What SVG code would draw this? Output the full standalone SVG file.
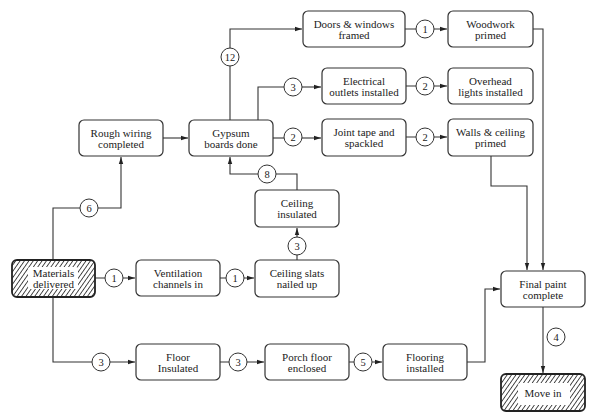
<svg xmlns="http://www.w3.org/2000/svg" width="590" height="417" viewBox="0 0 590 417">
<style>
.box{fill:#fff;stroke:#333;stroke-width:1.2}
.hbox{fill:url(#hatch);stroke:#222;stroke-width:1.8}
.lbl{fill:#fff;stroke:none}
.t{font-family:"Liberation Serif","Times New Roman",serif;font-size:11px;fill:#222;text-anchor:middle}
.c{fill:#fff;stroke:#333;stroke-width:1}
.ct{font-family:"Liberation Serif","Times New Roman",serif;font-size:10.5px;fill:#222;text-anchor:middle}
.ln{fill:none;stroke:#333;stroke-width:1.1}
.ar{fill:none;stroke:#333;stroke-width:1.1;marker-end:url(#ah)}
</style>
<defs>
<pattern id="hatch" width="3.6" height="4" patternUnits="userSpaceOnUse" patternTransform="rotate(35)">
<rect width="3.6" height="4" fill="#fff"/>
<line x1="0" y1="0" x2="0" y2="4" stroke="#222" stroke-width="1.6"/>
</pattern>
<marker id="ah" markerWidth="8" markerHeight="6" refX="7" refY="3" orient="auto" markerUnits="userSpaceOnUse">
<path d="M0,0.8 L7,3 L0,5.2 Z" fill="#222"/>
</marker>
</defs>

<g id="connectors">
<path class="ar" d="M230,120 V29 H302"/>
<path class="ar" d="M405,29 H447"/>
<path class="ln" d="M258,120 V87 H284"/>
<path class="ar" d="M302,87 H321"/>
<path class="ar" d="M406,86 H447"/>
<path class="ln" d="M273,138 H284"/>
<path class="ar" d="M302,138 H321"/>
<path class="ar" d="M406,137 H447"/>
<path class="ar" d="M533,29 H543 V270"/>
<path class="ar" d="M491,156 V186 H527 V270"/>
<path class="ar" d="M163,138 H188"/>
<path class="ln" d="M53,260 V208 H80"/>
<path class="ar" d="M98,208 H121 V157"/>
<path class="ln" d="M297,190 V174 H276"/>
<path class="ar" d="M258,174 H230 V157"/>
<path class="ar" d="M95,278 H135"/>
<path class="ar" d="M220,278 H254"/>
<path class="ar" d="M297,260 V228"/>
<path class="ar" d="M53,297 V362 H135"/>
<path class="ar" d="M220,362 H264"/>
<path class="ar" d="M349,362 H382"/>
<path class="ar" d="M467,362 H485 V289 H500"/>
<path class="ar" d="M543,307 V373"/>

<circle class="c" cx="230" cy="57" r="9"/><text class="ct" x="230" y="60.5">12</text>
<circle class="c" cx="425" cy="29" r="9"/><text class="ct" x="425" y="32.5">1</text>
<circle class="c" cx="293" cy="87" r="9"/><text class="ct" x="293" y="90.5">3</text>
<circle class="c" cx="425" cy="86" r="9"/><text class="ct" x="425" y="89.5">2</text>
<circle class="c" cx="293" cy="137" r="9"/><text class="ct" x="293" y="140.5">2</text>
<circle class="c" cx="425" cy="137" r="9"/><text class="ct" x="425" y="140.5">2</text>
<circle class="c" cx="267" cy="174" r="9"/><text class="ct" x="267" y="177.5">8</text>
<circle class="c" cx="89" cy="208" r="9"/><text class="ct" x="89" y="211.5">6</text>
<circle class="c" cx="297" cy="246" r="9"/><text class="ct" x="297" y="249.5">3</text>
<circle class="c" cx="114" cy="278" r="9"/><text class="ct" x="114" y="281.5">1</text>
<circle class="c" cx="235" cy="278" r="9"/><text class="ct" x="235" y="281.5">1</text>
<circle class="c" cx="101" cy="362" r="9"/><text class="ct" x="101" y="365.5">3</text>
<circle class="c" cx="238" cy="362" r="9"/><text class="ct" x="238" y="365.5">3</text>
<circle class="c" cx="363" cy="362" r="9"/><text class="ct" x="363" y="365.5">5</text>
<circle class="c" cx="556" cy="337" r="9"/><text class="ct" x="556" y="340.5">4</text>
</g>

<g id="doors">
<rect class="box" x="303" y="11" width="102" height="36" rx="5"/>
<text class="t" x="354" y="27.5">Doors &amp; windows</text>
<text class="t" x="354" y="38.5">framed</text>
</g>
<g id="woodwork">
<rect class="box" x="448" y="11" width="85" height="36" rx="5"/>
<text class="t" x="490.5" y="27.5">Woodwork</text>
<text class="t" x="490.5" y="38.5">primed</text>
</g>
<g id="electrical">
<rect class="box" x="322" y="68" width="84" height="36" rx="5"/>
<text class="t" x="364" y="84.5">Electrical</text>
<text class="t" x="364" y="95.5">outlets installed</text>
</g>
<g id="overhead">
<rect class="box" x="448" y="68" width="85" height="36" rx="5"/>
<text class="t" x="490.5" y="84.5">Overhead</text>
<text class="t" x="490.5" y="95.5">lights installed</text>
</g>
<g id="jointtape">
<rect class="box" x="322" y="119" width="84" height="37" rx="5"/>
<text class="t" x="364" y="136">Joint tape and</text>
<text class="t" x="364" y="147">spackled</text>
</g>
<g id="walls">
<rect class="box" x="448" y="119" width="85" height="37" rx="5"/>
<text class="t" x="490.5" y="136">Walls &amp; ceiling</text>
<text class="t" x="490.5" y="147">primed</text>
</g>
<g id="roughwiring">
<rect class="box" x="79" y="120" width="84" height="36" rx="5"/>
<text class="t" x="121" y="136.5">Rough wiring</text>
<text class="t" x="121" y="147.5">completed</text>
</g>
<g id="gypsum">
<rect class="box" x="189" y="120" width="84" height="36" rx="5"/>
<text class="t" x="231" y="136.5">Gypsum</text>
<text class="t" x="231" y="147.5">boards done</text>
</g>
<g id="ceilinginsulated">
<rect class="box" x="255" y="190" width="84" height="37" rx="5"/>
<text class="t" x="297" y="207">Ceiling</text>
<text class="t" x="297" y="218">insulated</text>
</g>
<g id="materials">
<rect class="hbox" x="12" y="260" width="83" height="37" rx="5"/>
<rect class="lbl" x="28" y="267" width="50" height="22" rx="2"/>
<text class="t" x="53.5" y="277">Materials</text>
<text class="t" x="53.5" y="288">delivered</text>
</g>
<g id="ventilation">
<rect class="box" x="136" y="260" width="84" height="36" rx="5"/>
<text class="t" x="178" y="276.5">Ventilation</text>
<text class="t" x="178" y="287.5">channels in</text>
</g>
<g id="ceilingslats">
<rect class="box" x="255" y="260" width="84" height="37" rx="5"/>
<text class="t" x="297" y="277">Ceiling slats</text>
<text class="t" x="297" y="288">nailed up</text>
</g>
<g id="floor">
<rect class="box" x="136" y="344" width="84" height="36" rx="5"/>
<text class="t" x="178" y="360.5">Floor</text>
<text class="t" x="178" y="371.5">Insulated</text>
</g>
<g id="porch">
<rect class="box" x="265" y="344" width="84" height="36" rx="5"/>
<text class="t" x="307" y="360.5">Porch floor</text>
<text class="t" x="307" y="371.5">enclosed</text>
</g>
<g id="flooring">
<rect class="box" x="383" y="344" width="84" height="36" rx="5"/>
<text class="t" x="425" y="360.5">Flooring</text>
<text class="t" x="425" y="371.5">installed</text>
</g>
<g id="finalpaint">
<rect class="box" x="501" y="271" width="84" height="36" rx="5"/>
<text class="t" x="543" y="287.5">Final paint</text>
<text class="t" x="543" y="298.5">complete</text>
</g>
<g id="movein">
<rect class="hbox" x="501" y="374" width="84" height="37" rx="5"/>
<rect class="lbl" x="518" y="383" width="52" height="22" rx="2"/>
<text class="t" x="543" y="397">Move in</text>
</g>
</svg>
